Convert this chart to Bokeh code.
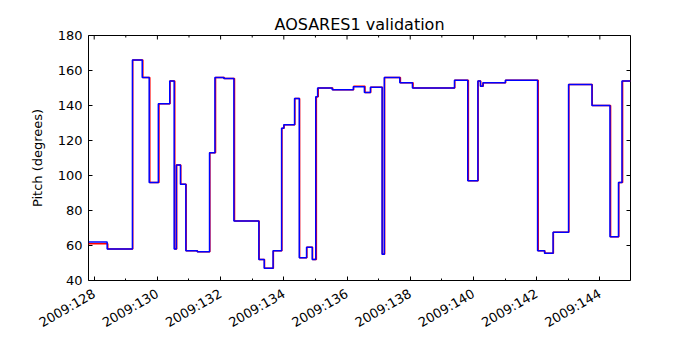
import math
from bokeh.plotting import figure
from bokeh.models import FixedTicker, Range1d
from bokeh.embed import file_html
from bokeh.resources import INLINE

# ---- data (day of year 2009, pitch degrees) ----
blue_day = [127.82, 128.41, 129.21, 129.52, 129.74, 130.03, 130.39, 130.53, 130.60, 130.73,
            130.90, 131.26, 131.65, 131.82, 132.10, 132.42, 133.21, 133.38, 133.66, 133.93,
            134.00, 134.34, 134.49, 134.72, 134.90, 135.01, 135.07, 135.53, 136.20, 136.55,
            136.74, 137.11, 137.18, 137.67, 138.07, 139.40, 139.82, 140.14, 140.22, 140.30,
            141.01, 142.03, 142.25, 142.52, 143.01, 143.75, 144.32, 144.59, 144.70, 144.97]
blue_pitch = [62, 58, 166, 156, 96, 141, 154, 58, 106, 95,
              57, 56.5, 113, 156, 155.5, 74, 52, 47, 57, 127,
              129, 144, 53, 59, 52, 145, 150, 149, 150.7, 147.4,
              150.5, 55, 156, 153, 150, 154.5, 97, 154, 151, 153,
              154.5, 57, 55.6, 67.6, 152, 140, 65, 96, 154, 154]

red_day = [127.82, 128.43, 129.22, 129.54, 129.76, 130.05, 130.40, 130.55, 130.61, 130.74,
           130.91, 131.27, 131.66, 131.84, 132.12, 132.44, 133.22, 133.39, 133.67, 133.94,
           134.01, 134.35, 134.50, 134.73, 134.91, 135.03, 135.09, 135.55, 136.21, 136.57,
           136.75, 137.12, 137.19, 137.69, 138.09, 139.41, 139.84, 140.15, 140.23, 140.31,
           141.02, 142.05, 142.26, 142.53, 143.02, 143.76, 144.34, 144.60, 144.72, 144.97]
red_pitch = [61, 58, 166, 156, 96, 141, 154, 58, 106, 95,
             57, 56.5, 113, 156, 155.5, 74, 52, 47, 57, 127,
             129, 144, 53, 59, 52, 145, 150, 149, 151, 147.4,
             150.5, 55, 156, 153, 150, 154.5, 97, 154, 151, 153,
             154.5, 57, 55.6, 67.6, 152, 140, 65, 96, 154, 154]

major_days = [128, 130, 132, 134, 136, 138, 140, 142, 144]
minor_days = [129, 131, 133, 135, 137, 139, 141, 143]
tick_labels = ["2009:128", "2009:130", "2009:132", "2009:134", "2009:136",
               "2009:138", "2009:140", "2009:142", "2009:144"]
y_ticks = [40, 60, 80, 100, 120, 140, 160, 180]
x_min, x_max = 127.82, 144.97
y_min, y_max = 40, 180

FONT = "DejaVu Sans"

p = figure(frame_width=542, frame_height=245, output_backend="svg", toolbar_location=None,
           x_range=Range1d(x_min, x_max), y_range=Range1d(y_min, y_max),
           min_border_left=88, min_border_right=60, min_border_top=35, min_border_bottom=60,
           title="AOSARES1 validation")
p.title.align = "center"
p.title.text_font = FONT
p.title.text_font_size = "16px"
p.title.text_font_style = "normal"
p.title.text_color = "black"
p.title.standoff = 4

p.grid.visible = False
p.outline_line_color = "black"
p.outline_line_width = 1
p.background_fill_color = "white"
p.border_fill_color = "white"

xt = FixedTicker(ticks=major_days, minor_ticks=minor_days)
yt = FixedTicker(ticks=y_ticks)

def style(ax):
    ax.axis_line_color = None
    ax.major_tick_in = 4
    ax.major_tick_out = 0
    ax.minor_tick_in = 2
    ax.minor_tick_out = 0
    ax.major_tick_line_color = "black"
    ax.minor_tick_line_color = "black"
    ax.major_label_text_font = FONT
    ax.major_label_text_font_size = "13px"
    ax.major_label_text_color = "black"

xa = p.xaxis[0]
xa.ticker = xt
xa.major_label_overrides = {d: s for d, s in zip(major_days, tick_labels)}
xa.major_label_orientation = math.pi / 6
xa.major_label_standoff = 12
style(xa)

ya = p.yaxis[0]
ya.ticker = yt
ya.axis_label = "Pitch (degrees)"
ya.axis_label_text_font = FONT
ya.axis_label_text_font_size = "13px"
ya.axis_label_text_font_style = "normal"
ya.axis_label_text_color = "black"
ya.axis_label_standoff = 10
ya.major_label_standoff = 6
style(ya)
ya.minor_tick_in = 0

# inward ticks on the top and right frame edges (dash markers clipped by the frame)
p.scatter(major_days, [y_max] * len(major_days), marker="dash", size=8, angle=math.pi / 2,
          line_color="black", line_width=1)
p.scatter(minor_days, [y_max] * len(minor_days), marker="dash", size=4, angle=math.pi / 2,
          line_color="black", line_width=1)
p.scatter([x_max] * len(y_ticks), y_ticks, marker="dash", size=8,
          line_color="black", line_width=1)

p.step(red_day, red_pitch, mode="after", line_color="#ff0000", line_width=1.5)
p.step(blue_day, blue_pitch, mode="after", line_color="#0000ff", line_width=1.5)

open("out.html", "w").write(file_html(p, INLINE))
